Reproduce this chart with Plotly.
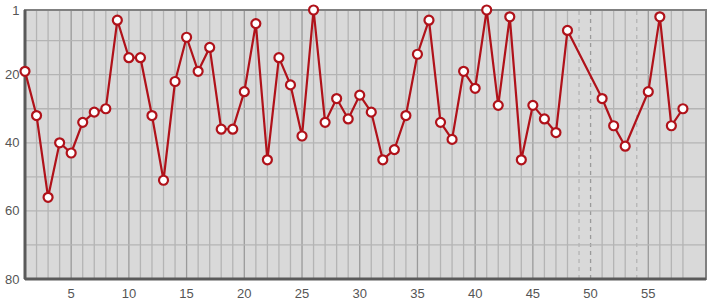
import plotly.graph_objects as go

x_vals = [1, 2, 3, 4, 5, 6, 7, 8, 9, 10, 11, 12, 13, 14, 15, 16, 17, 18, 19, 20,
          21, 22, 23, 24, 25, 26, 27, 28, 29, 30, 31, 32, 33, 34, 35, 36, 37, 38, 39, 40,
          41, 42, 43, 44, 45, 46, 47, 48, 51, 52, 53, 55, 56, 57, 58]
y_vals = [19, 32, 56, 40, 43, 34, 31, 30, 4, 15, 15, 32, 51, 22, 9, 19, 12, 36, 36, 25,
          5, 45, 15, 23, 38, 1, 34, 27, 33, 26, 31, 45, 42, 32, 14, 4, 34, 39, 19, 24,
          1, 29, 3, 45, 29, 33, 37, 7, 27, 35, 41, 25, 3, 35, 30]
x_ticks = [5, 10, 15, 20, 25, 30, 35, 40, 45, 50, 55]
y_ticks = [1, 20, 40, 60, 80]
y_grid = [10, 20, 30, 40, 50, 60, 70]

RED = "#b0121a"
fig = go.Figure()
fig.add_trace(go.Scatter(
    x=x_vals, y=y_vals, mode="lines+markers",
    line=dict(color=RED, width=2.2),
    marker=dict(size=9, color="white", line=dict(color=RED, width=2.2)),
    hoverinfo="skip", showlegend=False, cliponaxis=False,
))

shapes = []
present = set(x_vals)
for xv in range(min(x_vals), max(x_vals) + 1):
    major = xv % 5 == 0
    color = "#9a9a9a" if major else "#b4b4b4"
    shapes.append(dict(type="line", xref="x", yref="paper", x0=xv, x1=xv, y0=0, y1=1,
                       layer="below", line=dict(color=color, width=1.3,
                                                dash="solid" if xv in present else "4px,4px")))
for yv in y_grid:
    shapes.append(dict(type="line", xref="paper", yref="y", x0=0, x1=1, y0=yv, y1=yv,
                       layer="below", line=dict(color="#b4b4b4", width=1.3)))
# frame
shapes.append(dict(type="rect", xref="paper", yref="paper", x0=0, x1=1, y0=0, y1=1,
                   layer="below", line=dict(color="#808080", width=2)))
shapes.append(dict(type="line", xref="paper", yref="paper", x0=0, x1=0, y0=0, y1=1,
                   layer="below", line=dict(color="#5a5a5a", width=3)))
shapes.append(dict(type="line", xref="paper", yref="paper", x0=0, x1=1, y0=0, y1=0,
                   layer="below", line=dict(color="#5a5a5a", width=3)))

fig.update_layout(
    width=715, height=300,
    margin=dict(l=25, r=9, t=10, b=21),
    paper_bgcolor="white", plot_bgcolor="#d9d9d9",
    font=dict(family="Liberation Sans, Arial, sans-serif", size=13, color="#555"),
    shapes=shapes,
    xaxis=dict(range=[1, 60], tickvals=x_ticks, showgrid=False, zeroline=False,
               showline=False, ticks="outside", ticklen=2, tickcolor="rgba(0,0,0,0)",
               automargin=False),
    yaxis=dict(range=[80, 1], tickvals=y_ticks, showgrid=False, zeroline=False,
               showline=False, ticks="outside", ticklen=2, tickcolor="rgba(0,0,0,0)",
               automargin=False),
)
fig.write_html("out.html")
